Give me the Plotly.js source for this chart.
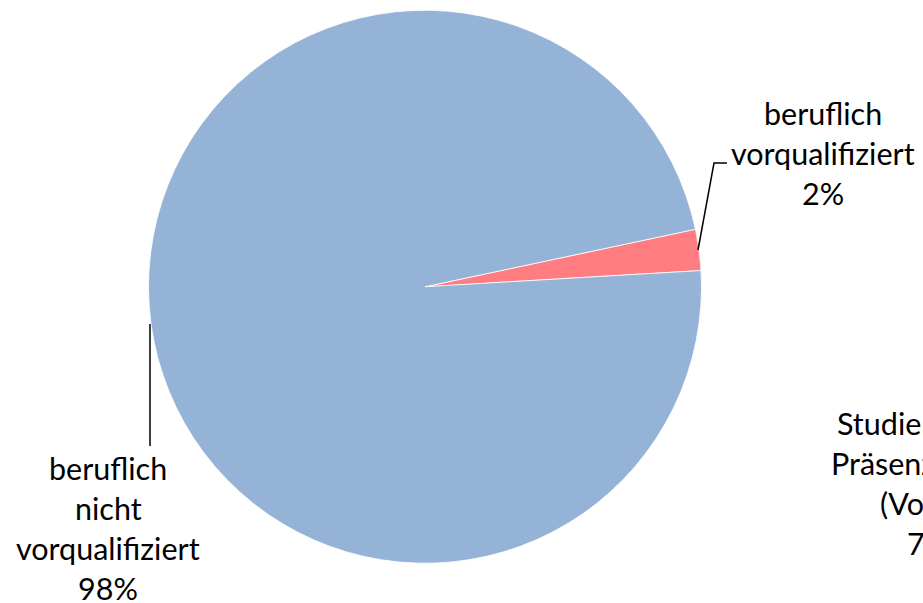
<!DOCTYPE html>
<html>
<head>
<meta charset="utf-8">
<script src="https://cdn.plot.ly/plotly-3.0.1.min.js"></script>
<style>
  html, body { margin: 0; padding: 0; background: #fff; }
  #chart { width: 923px; height: 603px; }
</style>
</head>
<body>
<div id="chart"></div>
<script>
// ---- data ----
var categories = ["beruflich vorqualifiziert", "beruflich nicht vorqualifiziert"];
var labelLines = [["beruflich", "vorqualifiziert"], ["beruflich", "nicht", "vorqualifiziert"]];
var values = [2.4, 97.6];
var colors = ["#FF7C80", "#95B3D7"];
// neighbouring chart label (cut off at right edge)
var sideLabelLines = ["Studierende im", "Präsenzstudium", "(Vollzeit)", "78%"];

// ---- layout helpers (pixel -> paper) ----
var W = 923, H = 603;
function px(x) { return x / W; }
function py(y) { return 1 - y / H; }

var FONT = { family: "Lato, 'Open Sans', sans-serif", size: 30.5, color: "#000000" };
var LINE = 40;

var total = values.reduce(function (a, b) { return a + b; }, 0);
function pct(v) { return Math.round(v / total * 100) + "%"; }

var annotations = [];
function addBlock(lines, cx, firstY) {
  lines.forEach(function (t, i) {
    annotations.push({
      xref: "paper", yref: "paper", x: px(cx), y: py(firstY + i * LINE),
      xanchor: "center", yanchor: "middle", showarrow: false,
      text: t, font: FONT
    });
  });
}
addBlock(labelLines[0].concat([pct(values[0])]), 823, 113);
addBlock(labelLines[1].concat([pct(values[1])]), 108, 468);
addBlock(sideLabelLines, 937, 423);

var shapes = [
  { type: "path", xref: "paper", yref: "paper",
    path: "M " + px(698) + "," + py(250) + " L " + px(714) + "," + py(163) + " L " + px(727) + "," + py(163),
    line: { color: "#000", width: 1.5 } },
  { type: "line", xref: "paper", yref: "paper",
    x0: px(150), y0: py(324), x1: px(150), y1: py(446),
    line: { color: "#000", width: 1.5 } }
];

var trace = {
  type: "pie",
  labels: categories,
  values: values,
  sort: false,
  direction: "clockwise",
  rotation: 78,
  marker: { colors: colors, line: { color: "#ffffff", width: 0.8 } },
  textinfo: "none",
  hoverinfo: "label+percent",
  showlegend: false,
  domain: { x: [px(148.5), px(701.5)], y: [py(563.5), py(10)] }
};

var layout = {
  width: W, height: H,
  margin: { l: 0, r: 0, t: 0, b: 0 },
  paper_bgcolor: "#ffffff",
  showlegend: false,
  annotations: annotations,
  shapes: shapes
};

Plotly.newPlot("chart", [trace], layout, { displayModeBar: false, staticPlot: true });
</script>
</body>
</html>
